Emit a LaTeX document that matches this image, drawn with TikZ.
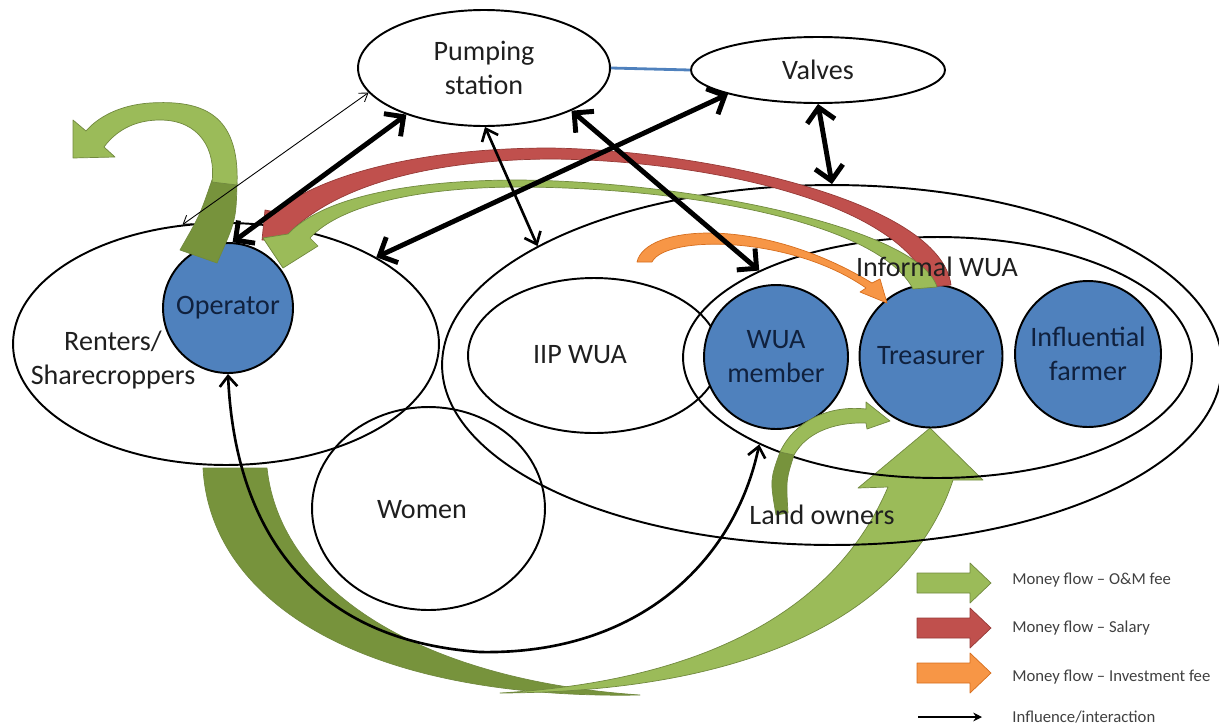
\documentclass[tikz,border=0pt]{standalone}
\usepackage{fontspec}
\setmainfont{Carlito}
\usepackage{xcolor}
\usepackage{tikz}
\usetikzlibrary{shapes.geometric, arrows.meta}
\definecolor{wuablue}{RGB}{79,129,189}
\definecolor{wuanavy}{RGB}{16,33,62}
\definecolor{omlight}{RGB}{155,187,89}
\definecolor{omdark}{RGB}{119,147,60}
\definecolor{omline}{RGB}{113,137,63}
\definecolor{salaryred}{RGB}{192,80,77}
\definecolor{salaryline}{RGB}{150,58,55}
\definecolor{investorange}{RGB}{247,150,70}
\definecolor{investline}{RGB}{214,110,30}

\begin{document}
\begin{tikzpicture}[x=0.02cm, y=-0.02cm,
        txt/.style={font=\fontsize{16}{19.3}\selectfont, align=center, text=black!88},
        legtxt/.style={font=\fontsize{9.5}{11}\selectfont, text=black!75, anchor=west, inner sep=0pt},
        group/.style={draw, ellipse, line width=1.1pt, inner sep=0pt},
        actor/.style={draw, circle, fill=wuablue, line width=1.1pt, inner sep=0pt,
            font=\fontsize{16}{19.3}\selectfont, align=center, text=wuanavy},
        money/.style={line width=0.4pt, line join=round},
        thinlink/.style={{Straight Barb[length=4.5pt,width=6pt]}-{Straight Barb[length=4.5pt,width=6pt]}, line width=0.5pt},
        medlink/.style={{Straight Barb[length=6pt,width=10pt]}-{Straight Barb[length=6pt,width=10pt]}, line width=1.5pt},
        boldlink/.style={{Straight Barb[length=8pt,width=16pt]}-{Straight Barb[length=8pt,width=16pt]}, line width=2.8pt}]
    \useasboundingbox (0,0) rectangle (1219,727);

    % O&M fee collected from the renters, handed to the treasurer
    \filldraw[fill=omdark, draw=omline, money] (203,468) .. controls (210,600) and (360,700) .. (640,695)
        .. controls (420,680) and (280,590) .. (267,468) -- cycle;
    \filldraw[fill=omlight, draw=omline, money] (500,693) .. controls (760,692) and (910,610) .. (953,480)
        -- (983,480) -- (930,428) -- (858,488) -- (888,487)
        .. controls (840,600) and (720,680) .. (500,693) -- cycle;

    % groups
    \node[group, minimum width=8.52cm, minimum height=4.84cm] (renters) at (226,344) {};
    \node[group, minimum width=15.6cm, minimum height=7.2cm] (land) at (832,365) {};
    \node[group, minimum width=10.18cm, minimum height=4.82cm] (informal) at (937.5,357.5) {};
    \node[group, minimum width=5.04cm, minimum height=3.1cm] (iip) at (594,355.5) {};
    \node[group, minimum width=4.66cm, minimum height=4.06cm] (women) at (428.5,508.5) {};
    \node[group, txt, minimum width=5.04cm, minimum height=2.32cm] (pump) at (484,68) {Pumping\\station};
    \node[group, txt, minimum width=5.08cm, minimum height=1.32cm] (valves) at (818,70) {Valves};

    % actors
    \node[actor, minimum size=2.6cm] (oper) at (228,308) {Operator};
    \node[actor, minimum size=2.88cm] (member) at (776,357) {WUA\\member};
    \node[actor, minimum size=2.86cm] (treas) at (931,356) {Treasurer};
    \node[actor, minimum size=2.92cm] (infl) at (1088,354) {Influential\\farmer};

    % operator's own O&M share
    \filldraw[fill=omdark, draw=omline, money] (180,250) .. controls (200,215) .. (212,180)
        -- (237,183) .. controls (236,220) .. (217,263) -- cycle;
    \filldraw[fill=omlight, draw=omline, money] (237,185) .. controls (240,112) and (200,100) .. (150,103)
        .. controls (120,105) and (98,117) .. (86,131)
        -- (73,120) -- (73,158) -- (115,157) -- (104,147)
        .. controls (118,128) and (138,120) .. (160,120)
        .. controls (200,120) and (216,150) .. (212,182) -- cycle;

    % salary, treasurer to operator
    \filldraw[fill=salaryred, draw=salaryline, money] (951,285) .. controls (940,200) and (700,150) .. (550,148)
        .. controls (420,148) and (320,175) .. (275,212)
        -- (265,210) -- (262,240) -- (295,240) -- (292,230)
        .. controls (340,185) and (430,160) .. (550,159)
        .. controls (700,160) and (900,200) .. (930,287) -- cycle;
    % O&M, treasurer to operator
    \filldraw[fill=omlight, draw=omline, money] (937,287) .. controls (920,230) and (700,182) .. (520,180)
        .. controls (400,180) and (320,200) .. (288,234)
        -- (263,238) -- (283,268) -- (318,246) -- (310,238)
        .. controls (340,205) and (420,187) .. (520,187)
        .. controls (700,188) and (880,225) .. (913,289) -- cycle;
    % investment fee
    \filldraw[fill=investorange, draw=investline, money] (637,262) .. controls (645,225) and (760,215) .. (872,283)
        -- (880,279) -- (887,303) -- (860,292) -- (866,288)
        .. controls (790,235) and (665,235) .. (652,262) -- cycle;
    % O&M from land owners
    \filldraw[fill=omdark, draw=omline, money] (776,515) .. controls (770,480) .. (780,452)
        -- (794,455) .. controls (786,480) .. (788,513) -- cycle;
    \filldraw[fill=omlight, draw=omline, money] (780,452) .. controls (795,420) and (830,405) .. (866,409)
        -- (866,402) -- (890,421) -- (867,429) -- (866,423)
        .. controls (830,422) and (805,435) .. (794,455) -- cycle;

    % influence / interaction
    \draw[wuablue, line width=1.6pt] (pump.east) -- (valves.west);
    \draw[thinlink] (pump.192) -- (renters.110);
    \draw[boldlink] (pump.211) -- (oper.86);
    \draw[boldlink] (valves.195) -- (renters.30);
    \draw[medlink] (pump.-89) -- (land.158);
    \draw[boldlink] (pump.-26) -- (informal.154);
    \draw[boldlink] (valves.south) -- (land.north);
    \draw[medlink] (oper.south) .. controls (235,530) and (310,640) .. (480,652)
        .. controls (640,655) and (735,560) .. (informal.206);

    % group labels
    \node[txt] (renterslbl) at (113,360) {Renters/\\Sharecroppers};
    \node[txt] (iiplbl) at (580,355) {IIP WUA};
    \node[txt] (womenlbl) at (422,510) {Women};
    \node[txt] (landlbl) at (822,515) {Land owners};
    \node[txt] (informallbl) at (937,267) {Informal WUA};

    % legend
    \foreach \y/\ty/\col/\edge/\txt in {583/580/omlight/omline/{Money flow -- O\&M fee},
            628/628/salaryred/salaryline/{Money flow -- Salary},
            673/677/investorange/investline/{Money flow -- Investment fee}} {
        \filldraw[fill=\col, draw=\edge, money] (917,\y-10) -- (970,\y-10) -- (970,\y-20) -- (991,\y)
            -- (970,\y+20) -- (970,\y+10) -- (917,\y+10) -- cycle;
        \node[legtxt] (leg\y) at (1012,\ty) {\txt};
    }
    \draw[-{Stealth[length=5pt,width=5pt]}, line width=0.6pt] (918,717) -- (982,717);
    \node[legtxt] (leginfluence) at (1012,717) {Influence/interaction};
\end{tikzpicture}
\end{document}
